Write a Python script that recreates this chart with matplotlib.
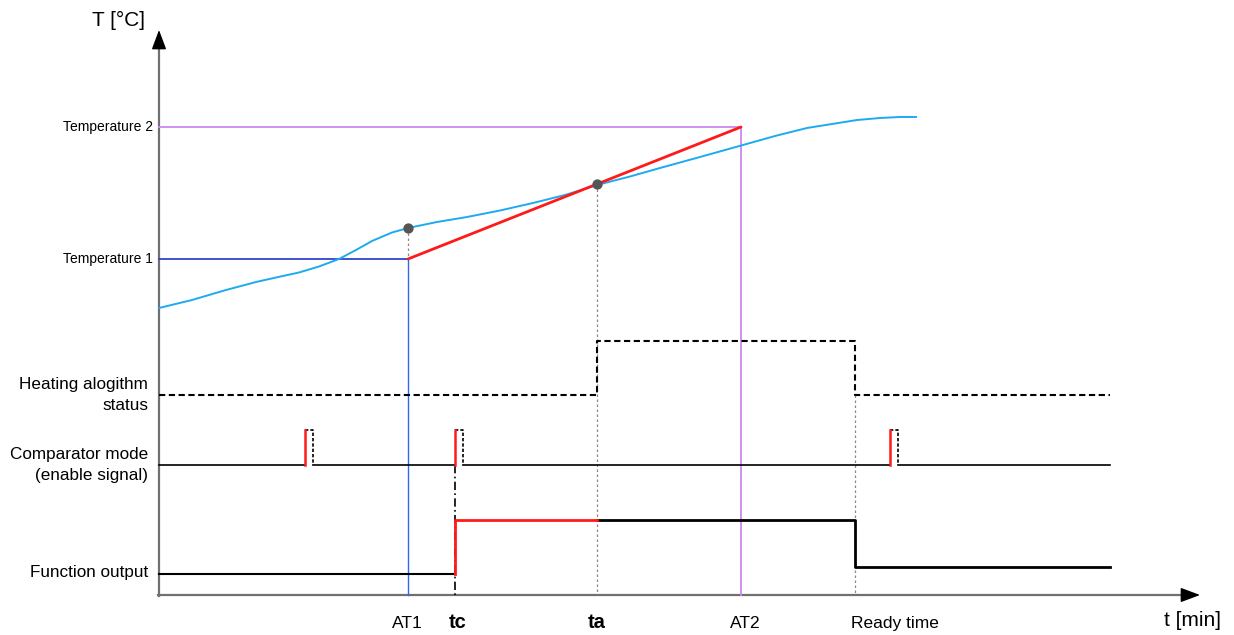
import matplotlib
matplotlib.use("Agg")
import matplotlib.pyplot as plt
import numpy as np

plt.rcParams['font.family'] = ['Liberation Sans', 'DejaVu Sans']

# ---- data (in diagram units: x = time position, y = vertical position) ----
x_origin, y_origin = 159, 595
x_end, y_top = 1200, 30

temp_labels = ["Temperature 2", "Temperature 1"]
temp_levels = [127, 259]

t_AT1, t_tc, t_ta, t_AT2, t_ready = 408, 455, 597, 741, 855
bottom_labels = ["AT1", "tc", "ta", "AT2", "Ready time"]
bottom_label_x = [407, 458, 597, 745, 895]
bottom_bold = [False, True, True, False, False]

curve_x = [159, 192, 226, 256, 276, 299, 319, 339, 356, 372, 392, 408, 437, 467, 500,
           533, 565, 597, 630, 660, 700, 743, 775, 807, 832, 857, 880, 900, 916]
curve_y = [308, 300, 290, 282, 277.5, 272.5, 266.5, 259, 250, 241, 232.5, 228, 222, 217, 210.5,
           203, 195, 185, 176.5, 168, 157, 145, 136, 128, 124, 120, 118, 117, 117]

heat_x = [159, 597, 597, 855, 855, 1110]
heat_y = [395, 395, 341, 341, 395, 395]

comp_base = 465
comp_high = 430
comp_pulses = [305, 455, 890]
comp_width = 8
comp_end = 1110

out_x_black1 = [159, 455]
out_y_black1 = [574, 574]
out_x_red = [455, 455, 597]
out_y_red = [574, 520, 520]
out_x_black2 = [597, 855, 855, 1110]
out_y_black2 = [520, 520, 567, 567]

row_labels = ["Heating alogithm\nstatus", "Comparator mode\n(enable signal)", "Function output"]
row_label_y = [395, 465, 573]

fig = plt.figure(figsize=(12.34, 6.35), dpi=100)
ax = fig.add_axes([0, 0, 1, 1])
ax.set_xlim(0, 1234)
ax.set_ylim(635, 0)
ax.axis('off')

# axes with arrows (grey shaft, black head)
head = 17
ax.plot([x_origin, x_origin], [y_top + head, y_origin + 1], color="#707070", lw=1.6, zorder=1)
ax.plot([x_origin - 1, x_end - head], [y_origin, y_origin], color="#707070", lw=1.6, zorder=1)
ax.annotate("", xy=(x_origin, y_top), xytext=(x_origin, y_top + head),
            arrowprops=dict(arrowstyle="-|>,head_length=1.2,head_width=0.45", color="black", lw=1.0,
                            shrinkA=0, shrinkB=0))
ax.annotate("", xy=(x_end, y_origin), xytext=(x_end - head, y_origin),
            arrowprops=dict(arrowstyle="-|>,head_length=1.2,head_width=0.45", color="black", lw=1.0,
                            shrinkA=0, shrinkB=0))

ax.text(118, 20, "T [°C]", fontsize=15, ha="center", va="center")
ax.text(1193, 621, "t [min]", fontsize=15, ha="center", va="center")

# temperature levels
ax.text(153, temp_levels[0], temp_labels[0], fontsize=10, ha="right", va="center")
ax.text(153, temp_levels[1], temp_labels[1], fontsize=10, ha="right", va="center")
ax.plot([x_origin, t_AT2], [temp_levels[0], temp_levels[0]], color="#cc88ee", lw=1.3)
ax.plot([t_AT2, t_AT2], [temp_levels[0], y_origin], color="#cc88ee", lw=1.3)
ax.plot([x_origin, t_AT1], [temp_levels[1], temp_levels[1]], color="#3344cc", lw=1.3)
ax.plot([t_AT1, t_AT1], [temp_levels[1], y_origin], color="#3366ee", lw=1.0)

# ramp
ax.plot([t_AT1, t_AT2], [temp_levels[1], temp_levels[0]], color="#ff1a1a", lw=2.0, zorder=4,
        solid_capstyle="round")

# temperature curve
ax.plot(curve_x, curve_y, color="#1eaaf0", lw=1.4, zorder=3, solid_joinstyle="round")

# dotted guides
ax.plot([t_AT1, t_AT1], [228, temp_levels[1]], color="#888888", lw=0.9, ls=(0, (2, 2)))
ax.plot([t_ta, t_ta], [184, y_origin], color="#888888", lw=0.9, ls=(0, (2, 2)))
ax.plot([t_ready, t_ready], [395, y_origin], color="#888888", lw=0.9, ls=(0, (2, 2)))

# points
ax.scatter([t_AT1, t_ta], [228, 184], s=55, color="#555555", zorder=6, linewidths=0)

# heating status
ax.plot(heat_x, heat_y, color="black", lw=1.5, ls=(0, (3, 1.7)))

# comparator
prev = x_origin
for p in comp_pulses:
    ax.plot([prev, p], [comp_base, comp_base], color="black", lw=1.2)
    ax.plot([p, p], [comp_base, comp_high], color="#ff1a1a", lw=1.8, zorder=4)
    ax.plot([p, p + comp_width, p + comp_width], [comp_high, comp_high, comp_base],
            color="black", lw=1.2, ls=(0, (2, 1.2)))
    prev = p + comp_width
ax.plot([prev, comp_end], [comp_base, comp_base], color="black", lw=1.2)

# dash-dot at tc
ax.plot([t_tc, t_tc], [comp_base, y_origin], color="black", lw=1.2, ls=(0, (5, 2, 1, 2)), zorder=2)

# function output
ax.plot(out_x_black1, out_y_black1, color="black", lw=1.5)
ax.plot(out_x_red, out_y_red, color="#ff1a1a", lw=2.0, zorder=5)
ax.plot(out_x_black2, out_y_black2, color="black", lw=2.0)

# row labels
for lab, y in zip(row_labels, row_label_y):
    ax.text(148, y, lab, fontsize=12.3, ha="right", va="center", linespacing=1.55)

# bottom labels
for lab, x, b in zip(bottom_labels, bottom_label_x, bottom_bold):
    ax.text(x, 628, lab, fontsize=14.5 if b else 12.5, ha="center", va="baseline",
            fontweight="bold" if b else "normal")

fig.savefig("out.png", dpi=100)
